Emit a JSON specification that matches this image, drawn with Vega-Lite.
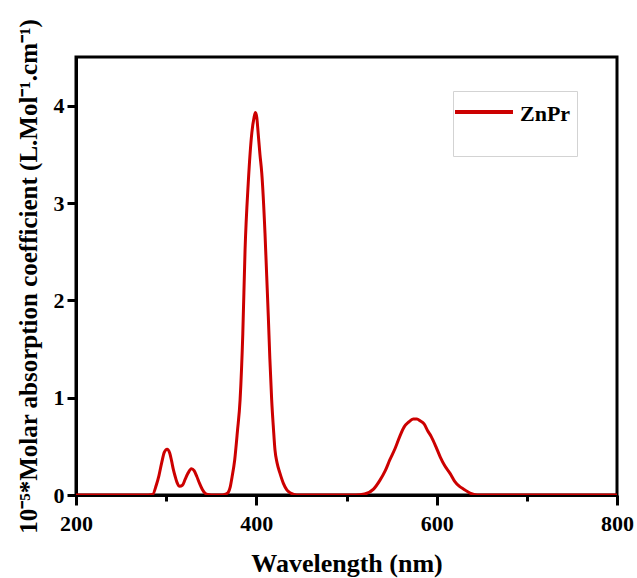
{
  "$schema": "https://vega.github.io/schema/vega-lite/v6.json",
  "width": 541,
  "height": 438,
  "autosize": {"type": "none"},
  "padding": {"left": 76, "top": 57, "right": 20, "bottom": 83},
  "background": "white",
  "data": {
    "values": [
      {"w": 200, "a": 0, "s": "ZnPr"},
      {"w": 280, "a": 0, "s": "ZnPr"},
      {"w": 285, "a": 0.005, "s": "ZnPr"},
      {"w": 289, "a": 0.1, "s": "ZnPr"},
      {"w": 292, "a": 0.2, "s": "ZnPr"},
      {"w": 295, "a": 0.33, "s": "ZnPr"},
      {"w": 298, "a": 0.44, "s": "ZnPr"},
      {"w": 301, "a": 0.47, "s": "ZnPr"},
      {"w": 304, "a": 0.43, "s": "ZnPr"},
      {"w": 306, "a": 0.35, "s": "ZnPr"},
      {"w": 308, "a": 0.26, "s": "ZnPr"},
      {"w": 310, "a": 0.19, "s": "ZnPr"},
      {"w": 312, "a": 0.13, "s": "ZnPr"},
      {"w": 315, "a": 0.09, "s": "ZnPr"},
      {"w": 318, "a": 0.1, "s": "ZnPr"},
      {"w": 321, "a": 0.16, "s": "ZnPr"},
      {"w": 324, "a": 0.22, "s": "ZnPr"},
      {"w": 328, "a": 0.27, "s": "ZnPr"},
      {"w": 331, "a": 0.25, "s": "ZnPr"},
      {"w": 334, "a": 0.19, "s": "ZnPr"},
      {"w": 337, "a": 0.12, "s": "ZnPr"},
      {"w": 340, "a": 0.06, "s": "ZnPr"},
      {"w": 343, "a": 0.02, "s": "ZnPr"},
      {"w": 346, "a": 0.005, "s": "ZnPr"},
      {"w": 350, "a": 0, "s": "ZnPr"},
      {"w": 362, "a": 0, "s": "ZnPr"},
      {"w": 366, "a": 0.01, "s": "ZnPr"},
      {"w": 369, "a": 0.03, "s": "ZnPr"},
      {"w": 371, "a": 0.08, "s": "ZnPr"},
      {"w": 373, "a": 0.18, "s": "ZnPr"},
      {"w": 376, "a": 0.36, "s": "ZnPr"},
      {"w": 379, "a": 0.65, "s": "ZnPr"},
      {"w": 382, "a": 0.98, "s": "ZnPr"},
      {"w": 385, "a": 1.66, "s": "ZnPr"},
      {"w": 387.5, "a": 2.52, "s": "ZnPr"},
      {"w": 391, "a": 3.2, "s": "ZnPr"},
      {"w": 395, "a": 3.72, "s": "ZnPr"},
      {"w": 397.5, "a": 3.88, "s": "ZnPr"},
      {"w": 399, "a": 3.93, "s": "ZnPr"},
      {"w": 400.5, "a": 3.88, "s": "ZnPr"},
      {"w": 402, "a": 3.72, "s": "ZnPr"},
      {"w": 404, "a": 3.5, "s": "ZnPr"},
      {"w": 406, "a": 3.31, "s": "ZnPr"},
      {"w": 409.6, "a": 2.69, "s": "ZnPr"},
      {"w": 411.5, "a": 2.25, "s": "ZnPr"},
      {"w": 413.3, "a": 1.83, "s": "ZnPr"},
      {"w": 415, "a": 1.4, "s": "ZnPr"},
      {"w": 417, "a": 0.98, "s": "ZnPr"},
      {"w": 419, "a": 0.68, "s": "ZnPr"},
      {"w": 420.7, "a": 0.46, "s": "ZnPr"},
      {"w": 423, "a": 0.33, "s": "ZnPr"},
      {"w": 426, "a": 0.23, "s": "ZnPr"},
      {"w": 430, "a": 0.12, "s": "ZnPr"},
      {"w": 434, "a": 0.05, "s": "ZnPr"},
      {"w": 438, "a": 0.02, "s": "ZnPr"},
      {"w": 445, "a": 0, "s": "ZnPr"},
      {"w": 510, "a": 0, "s": "ZnPr"},
      {"w": 520, "a": 0.01, "s": "ZnPr"},
      {"w": 530, "a": 0.06, "s": "ZnPr"},
      {"w": 537, "a": 0.15, "s": "ZnPr"},
      {"w": 543, "a": 0.25, "s": "ZnPr"},
      {"w": 548, "a": 0.36, "s": "ZnPr"},
      {"w": 554, "a": 0.48, "s": "ZnPr"},
      {"w": 559, "a": 0.6, "s": "ZnPr"},
      {"w": 564, "a": 0.7, "s": "ZnPr"},
      {"w": 569, "a": 0.75, "s": "ZnPr"},
      {"w": 574, "a": 0.78, "s": "ZnPr"},
      {"w": 578, "a": 0.78, "s": "ZnPr"},
      {"w": 582, "a": 0.76, "s": "ZnPr"},
      {"w": 586, "a": 0.73, "s": "ZnPr"},
      {"w": 590, "a": 0.66, "s": "ZnPr"},
      {"w": 594, "a": 0.6, "s": "ZnPr"},
      {"w": 599, "a": 0.5, "s": "ZnPr"},
      {"w": 604, "a": 0.39, "s": "ZnPr"},
      {"w": 609, "a": 0.3, "s": "ZnPr"},
      {"w": 615, "a": 0.22, "s": "ZnPr"},
      {"w": 620, "a": 0.14, "s": "ZnPr"},
      {"w": 625, "a": 0.09, "s": "ZnPr"},
      {"w": 630, "a": 0.06, "s": "ZnPr"},
      {"w": 637, "a": 0.02, "s": "ZnPr"},
      {"w": 645, "a": 0, "s": "ZnPr"},
      {"w": 800, "a": 0, "s": "ZnPr"}
    ]
  },
  "mark": {"type": "line", "strokeWidth": 3, "interpolate": "monotone", "clip": true},
  "encoding": {
    "x": {
      "field": "w",
      "type": "quantitative",
      "scale": {"domain": [200, 800], "nice": false, "zero": false},
      "axis": {
        "title": "Wavelength (nm)",
        "values": [200, 300, 400, 500, 600, 700, 800],
        "labelExpr": "datum.value % 200 === 0 ? datum.label : ''",
        "labelFlush": false,
        "tickSize": {"condition": {"test": "datum.value % 200 === 0", "value": 10}, "value": 6},
        "labelPadding": 8,
        "titlePadding": 16,
        "titleFontSize": 26
      }
    },
    "y": {
      "field": "a",
      "type": "quantitative",
      "scale": {"domain": [0, 4.5], "nice": false},
      "axis": {
        "title": "10⁻⁵*Molar absorption coefficient (L.Mol⁻¹.cm⁻¹)",
        "values": [0, 0.5, 1, 1.5, 2, 2.5, 3, 3.5, 4, 4.5],
        "format": "d",
        "labelExpr": "datum.value % 1 === 0 ? format(datum.value, 'd') : ''",
        "labelFlush": false,
        "tickSize": {"condition": {"test": "datum.value % 1 === 0", "value": 9}, "value": 6},
        "labelPadding": 3,
        "titlePadding": 12,
        "titleFontSize": 25
      }
    },
    "color": {
      "field": "s",
      "type": "nominal",
      "scale": {"domain": ["ZnPr"], "range": ["#cc0000"]},
      "legend": {
        "orient": "none",
        "legendX": 377,
        "legendY": 34,
        "title": " ",
        "titleOrient": "bottom",
        "titleFontSize": 20,
        "titlePadding": 5,
        "padding": 6,
        "strokeColor": "#d3d3d3",
        "symbolType": "M-1.226,-0.509H0.962",
        "symbolSize": 2809,
        "symbolStrokeWidth": 4,
        "symbolStrokeColor": "#cc0000",
        "labelOffset": 4,
        "labelBaseline": "bottom",
        "labelFont": "Liberation Serif",
        "labelFontSize": 22,
        "labelFontWeight": "bold",
        "labelColor": "black"
      }
    }
  },
  "config": {
    "view": {"stroke": "black", "strokeWidth": 3},
    "axis": {
      "grid": false,
      "domainColor": "black",
      "domainWidth": 3,
      "tickColor": "black",
      "tickWidth": 3,
      "labelFont": "Liberation Serif",
      "labelFontSize": 22,
      "labelFontWeight": "bold",
      "labelColor": "black",
      "titleFont": "Liberation Serif",
      "titleFontWeight": "bold",
      "titleColor": "black"
    }
  }
}
